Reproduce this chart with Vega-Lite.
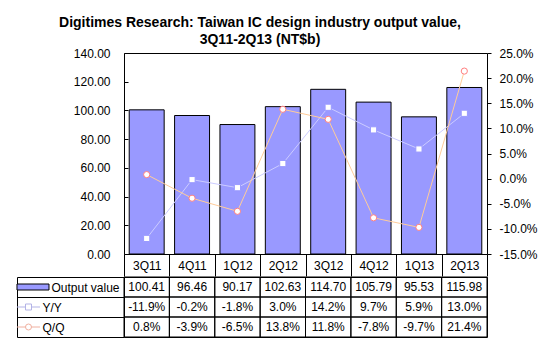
{
  "$schema": "https://vega.github.io/schema/vega-lite/v6.json",
  "padding": {"left": 14, "right": 5, "top": 15, "bottom": 5},
  "spacing": -8,
  "config": {
    "locale": {"number": {"decimal": ".", "thousands": ",", "grouping": [3], "currency": ["$", ""], "minus": "-"}},
    "font": "Liberation Sans",
    "view": {"stroke": "black", "strokeWidth": 1},
    "axis": {"labelFont": "Liberation Sans", "labelFontSize": 12, "labelColor": "black", "tickColor": "black", "domainColor": "black", "grid": false, "title": null, "labelOverlap": false},
    "text": {"font": "Liberation Sans", "fontSize": 12, "color": "black"}
  },
  "title": {
    "text": ["Digitimes Research: Taiwan IC design industry output value,", "3Q11-2Q13 (NT$b)"],
    "font": "Liberation Sans", "fontSize": 14, "fontWeight": "bold", "color": "black",
    "anchor": "middle", "lineHeight": 17, "offset": 0, "dx": -16
  },
  "datasets": {
    "q": [
      {"quarter": "3Q11", "Output value": 100.41, "Y/Y": -0.119, "Q/Q": 0.008},
      {"quarter": "4Q11", "Output value": 96.46, "Y/Y": -0.002, "Q/Q": -0.039},
      {"quarter": "1Q12", "Output value": 90.17, "Y/Y": -0.018, "Q/Q": -0.065},
      {"quarter": "2Q12", "Output value": 102.63, "Y/Y": 0.030, "Q/Q": 0.138},
      {"quarter": "3Q12", "Output value": 114.70, "Y/Y": 0.142, "Q/Q": 0.118},
      {"quarter": "4Q12", "Output value": 105.79, "Y/Y": 0.097, "Q/Q": -0.078},
      {"quarter": "1Q13", "Output value": 95.53, "Y/Y": 0.059, "Q/Q": -0.097},
      {"quarter": "2Q13", "Output value": 115.98, "Y/Y": 0.130, "Q/Q": 0.214}
    ]
  },
  "vconcat": [
    {
      "width": 363,
      "height": 201,
      "data": {"name": "q"},
      "encoding": {
        "x": {
          "field": "quarter", "type": "nominal", "sort": null,
          "scale": {"paddingInner": 0, "paddingOuter": 0},
          "axis": {"orient": "bottom", "title": null, "domain": false, "tickBand": "extent", "tickSize": 22, "labelPadding": -11, "labelBaseline": "middle", "labelAngle": 0}
        }
      },
      "layer": [
        {
          "mark": {"type": "bar", "width": {"band": 0.77}, "fill": "#9999FF", "stroke": "black", "strokeWidth": 1},
          "encoding": {
            "y": {
              "field": "Output value", "type": "quantitative",
              "scale": {"domain": [0, 140], "nice": false, "zero": true},
              "axis": {"orient": "left", "title": null, "format": ".2f", "values": [0, 20, 40, 60, 80, 100, 120, 140], "domain": false, "tickSize": -4, "labelPadding": 18, "labelOverlap": false}
            }
          }
        },
        {
          "transform": [{"fold": ["Y/Y", "Q/Q"], "as": ["series", "pct"]}],
          "encoding": {
            "y": {
              "field": "pct", "type": "quantitative",
              "scale": {"domain": [-0.15, 0.25], "nice": false, "zero": false},
              "axis": {"orient": "right", "title": null, "format": ".1%", "values": [-0.15, -0.1, -0.05, 0, 0.05, 0.1, 0.15, 0.2, 0.25], "domain": false, "tickSize": 4, "labelPadding": 8, "labelOverlap": false}
            }
          },
          "layer": [
            {
              "mark": {"type": "line", "strokeWidth": 1},
              "encoding": {
                "detail": {"field": "series", "type": "nominal"},
                "stroke": {"field": "series", "type": "nominal", "scale": {"domain": ["Y/Y", "Q/Q"], "range": ["#CCCCFF", "#FFCC99"]}, "legend": null}
              }
            },
            {
              "mark": {"type": "point", "filled": true, "fill": "white", "strokeWidth": 1, "size": 38, "opacity": 1},
              "encoding": {
                "shape": {"field": "series", "type": "nominal", "scale": {"domain": ["Y/Y", "Q/Q"], "range": ["square", "circle"]}, "legend": null},
                "stroke": {"field": "series", "type": "nominal", "scale": {"domain": ["Y/Y", "Q/Q"], "range": ["#9999FF", "#FF8080"]}, "legend": null}
              }
            }
          ],
          "resolve": {"scale": {"stroke": "independent"}}
        }
      ],
      "resolve": {"scale": {"y": "independent", "stroke": "independent"}}
    },
    {
      "width": 363,
      "height": 60,
      "data": {"name": "q"},
      "transform": [{"fold": ["Output value", "Y/Y", "Q/Q"], "as": ["key", "v"]}],
      "encoding": {
        "x": {"field": "quarter", "type": "nominal", "sort": null, "scale": {"paddingInner": 0, "paddingOuter": 0}, "axis": null}
      },
      "layer": [
        {
          "encoding": {
            "y": {
              "field": "key", "type": "nominal",
              "scale": {"domain": ["Output value", "Y/Y", "Q/Q"], "paddingInner": 0, "paddingOuter": 0},
              "axis": {
                "orient": "left", "title": null, "domain": false, "tickBand": "extent", "tickSize": 107,
                "labelAlign": "left", "labelBaseline": "middle",
                "labelPadding": {"condition": {"test": "datum.value === 'Output value'", "value": -34}, "value": -25}
              }
            }
          },
          "layer": [
            {
              "mark": {"type": "rect", "fill": "white", "fillOpacity": 0, "stroke": "black", "strokeWidth": 1}
            },
            {
              "transform": [{"filter": "datum.quarter === '3Q11' && datum.key === 'Output value'"}],
              "mark": {"type": "point", "shape": "M-1,-0.1875H1V0.1875H-1Z", "size": 1024, "filled": true, "fill": "#9999FF", "stroke": "black", "strokeWidth": 1, "opacity": 1, "xOffset": -113.7},
              "encoding": {"x": {"datum": "3Q11", "type": "nominal"}}
            },
            {
              "transform": [{"filter": "datum.quarter === '3Q11' && datum.key !== 'Output value'"}],
              "mark": {"type": "point", "shape": "M-0.72,0H0.72", "size": 1024, "filled": false, "strokeWidth": 1, "opacity": 1, "xOffset": -118.2},
              "encoding": {
                "x": {"datum": "3Q11", "type": "nominal"},
                "stroke": {"field": "key", "type": "nominal", "scale": {"domain": ["Y/Y", "Q/Q"], "range": ["#B3B3E6", "#F0B0A0"]}, "legend": null}
              }
            },
            {
              "transform": [{"filter": "datum.quarter === '3Q11' && datum.key !== 'Output value'"}],
              "mark": {"type": "point", "size": 36, "filled": true, "fill": "white", "strokeWidth": 1, "opacity": 1, "xOffset": -118.2},
              "encoding": {
                "x": {"datum": "3Q11", "type": "nominal"},
                "shape": {"field": "key", "type": "nominal", "scale": {"domain": ["Y/Y", "Q/Q"], "range": ["square", "circle"]}, "legend": null},
                "stroke": {"field": "key", "type": "nominal", "scale": {"domain": ["Y/Y", "Q/Q"], "range": ["#8080C0", "#E08080"]}, "legend": null}
              }
            }
          ]
        },
        {
          "encoding": {
            "y": {
              "field": "key", "type": "nominal",
              "scale": {"domain": ["Output value", "Y/Y", "Q/Q"], "paddingInner": 0, "paddingOuter": 0},
              "axis": {"orient": "left", "title": null, "offset": 107, "domain": true, "ticks": false, "labels": false}
            }
          },
          "layer": [
            {
              "transform": [{"filter": "datum.key === 'Output value'"}],
              "mark": {"type": "text"},
              "encoding": {"text": {"field": "v", "type": "quantitative", "format": ".2f"}}
            },
            {
              "transform": [{"filter": "datum.key !== 'Output value'"}],
              "mark": {"type": "text"},
              "encoding": {"text": {"field": "v", "type": "quantitative", "format": ".1%"}}
            }
          ]
        }
      ],
      "resolve": {"scale": {"y": "independent", "stroke": "independent"}}
    }
  ]
}
